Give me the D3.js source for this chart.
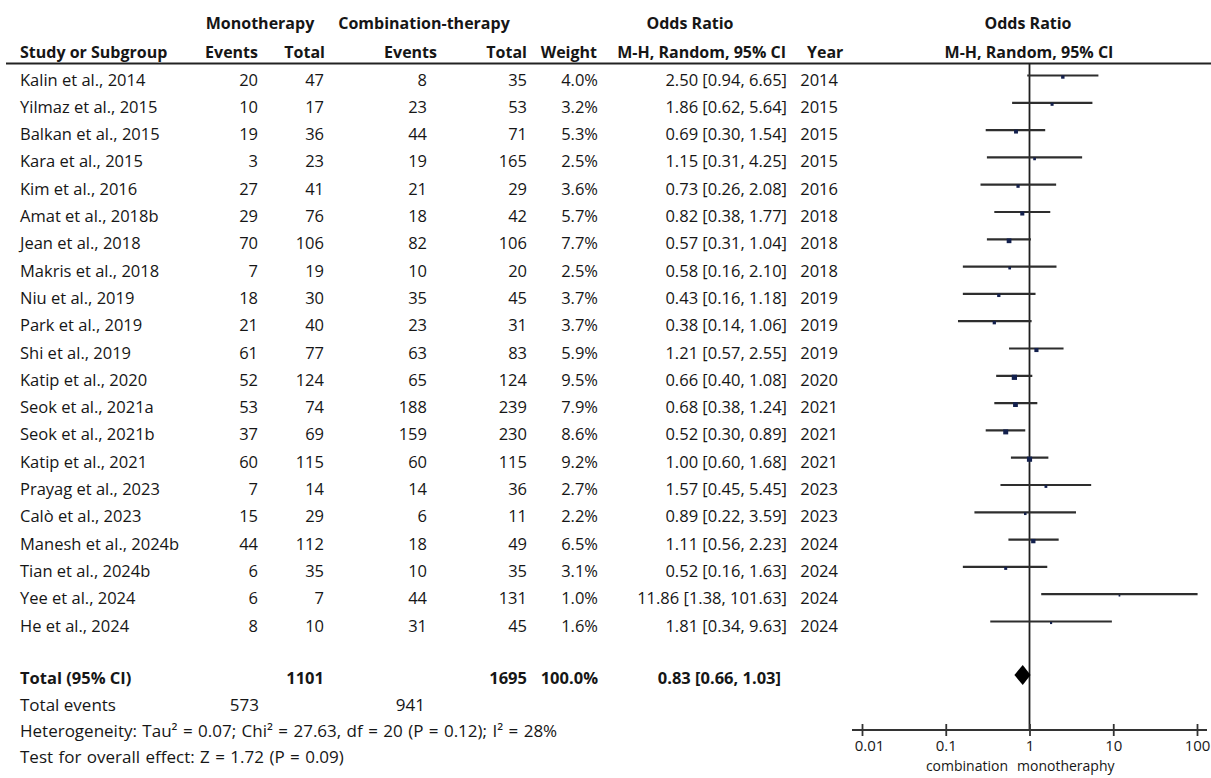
<!DOCTYPE html>
<html>
<head>
<meta charset="utf-8">
<script src="https://cdn.jsdelivr.net/npm/d3@7"></script>
<style>
  html, body { margin: 0; padding: 0; background: #fff; }
  svg text { font-family: "Open Sans", sans-serif; fill: #161616; }
</style>
</head>
<body>
<svg id="chart" width="1211" height="778"></svg>
<script>
// Study-level data
const studies = [
  "Kalin et al., 2014", "Yilmaz et al., 2015", "Balkan et al., 2015", "Kara et al., 2015",
  "Kim et al., 2016", "Amat et al., 2018b", "Jean et al., 2018", "Makris et al., 2018",
  "Niu et al., 2019", "Park et al., 2019", "Shi et al., 2019", "Katip et al., 2020",
  "Seok et al., 2021a", "Seok et al., 2021b", "Katip et al., 2021", "Prayag et al., 2023",
  "Calò et al., 2023", "Manesh et al., 2024b", "Tian et al., 2024b", "Yee et al., 2024",
  "He et al., 2024"
];
const monoEvents  = [20, 10, 19, 3, 27, 29, 70, 7, 18, 21, 61, 52, 53, 37, 60, 7, 15, 44, 6, 6, 8];
const monoTotal   = [47, 17, 36, 23, 41, 76, 106, 19, 30, 40, 77, 124, 74, 69, 115, 14, 29, 112, 35, 7, 10];
const comboEvents = [8, 23, 44, 19, 21, 18, 82, 10, 35, 23, 63, 65, 188, 159, 60, 14, 6, 18, 10, 44, 31];
const comboTotal  = [35, 53, 71, 165, 29, 42, 106, 20, 45, 31, 83, 124, 239, 230, 115, 36, 11, 49, 35, 131, 45];
const weights     = [4.0, 3.2, 5.3, 2.5, 3.6, 5.7, 7.7, 2.5, 3.7, 3.7, 5.9, 9.5, 7.9, 8.6, 9.2, 2.7, 2.2, 6.5, 3.1, 1.0, 1.6];
const oddsRatio   = [2.50, 1.86, 0.69, 1.15, 0.73, 0.82, 0.57, 0.58, 0.43, 0.38, 1.21, 0.66, 0.68, 0.52, 1.00, 1.57, 0.89, 1.11, 0.52, 11.86, 1.81];
const ciLower     = [0.94, 0.62, 0.30, 0.31, 0.26, 0.38, 0.31, 0.16, 0.16, 0.14, 0.57, 0.40, 0.38, 0.30, 0.60, 0.45, 0.22, 0.56, 0.16, 1.38, 0.34];
const ciUpper     = [6.65, 5.64, 1.54, 4.25, 2.08, 1.77, 1.04, 2.10, 1.18, 1.06, 2.55, 1.08, 1.24, 0.89, 1.68, 5.45, 3.59, 2.23, 1.63, 101.63, 9.63];
const years       = [2014, 2015, 2015, 2015, 2016, 2018, 2018, 2018, 2019, 2019, 2019, 2020, 2021, 2021, 2021, 2023, 2023, 2024, 2024, 2024, 2024];

// Pooled result
const pooledTotals = [1101, 1695];
const pooledEvents = [573, 941];
const pooledWeight = 100.0;
const pooledOR = [0.83, 0.66, 1.03];

// Axis
const axisTicks = [0.01, 0.1, 1, 10, 100];
const axisTickLabels = ["0.01", "0.1", "1", "10", "100"];
const favourLabels = ["combination", "monotheraphy"];

const svg = d3.select("#chart");
const f2 = d3.format(".2f");
const f1 = d3.format(".1f");

const x = d3.scaleLog().domain([0.01, 100]).range([862, 1197]);
const y = d3.scaleLinear().domain([0, studies.length - 1]).range([75.5, 621.5]);
const textDy = 10;

// ---- Header ----
const head = svg.append("g").attr("font-weight", "bold").attr("font-size", 16);
const headText = (t, px, py, anchor) =>
  head.append("text").attr("x", px).attr("y", py).attr("text-anchor", anchor).text(t);

headText("Monotherapy", 260, 29, "middle");
headText("Combination-therapy", 424, 29, "middle");
headText("Odds Ratio", 690, 29, "middle");
headText("Odds Ratio", 1028, 29, "middle");

headText("Study or Subgroup", 20, 58, "start");
headText("Events", 258, 58, "end");
headText("Total", 325, 58, "end");
headText("Events", 437, 58, "end");
headText("Total", 527, 58, "end");
headText("Weight", 597, 58, "end");
headText("M-H, Random, 95% CI", 786, 58, "end");
headText("Year", 807, 58, "start");
headText("M-H, Random, 95% CI", 1029, 58, "middle");

svg.append("line")
  .attr("x1", 6).attr("x2", 1211).attr("y1", 63.5).attr("y2", 63.5)
  .attr("stroke", "#222").attr("stroke-width", 2);

// ---- Study rows ----
const rows = svg.append("g").attr("font-size", 16.5);
const columns = [
  { vals: studies, x: 20, anchor: "start" },
  { vals: monoEvents, x: 258, anchor: "end" },
  { vals: monoTotal, x: 324, anchor: "end" },
  { vals: comboEvents, x: 427, anchor: "end" },
  { vals: comboTotal, x: 527, anchor: "end" },
  { vals: weights.map(w => f1(w) + "%"), x: 598, anchor: "end" },
  { vals: oddsRatio.map((o, i) => `${f2(o)} [${f2(ciLower[i])}, ${f2(ciUpper[i])}]`), x: 787, anchor: "end" },
  { vals: years, x: 838, anchor: "end" }
];
columns.forEach(col => {
  rows.selectAll(null).data(col.vals).enter().append("text")
    .attr("x", col.x)
    .attr("y", (d, i) => y(i) + textDy)
    .attr("text-anchor", col.anchor)
    .text(d => d);
});

// ---- Totals and footer ----
const totalY = 684;
const tot = svg.append("g").attr("font-weight", "bold").attr("font-size", 16.5);
tot.append("text").attr("x", 20).attr("y", totalY).text("Total (95% CI)");
tot.append("text").attr("x", 324).attr("y", totalY).attr("text-anchor", "end").text(pooledTotals[0]);
tot.append("text").attr("x", 527).attr("y", totalY).attr("text-anchor", "end").text(pooledTotals[1]);
tot.append("text").attr("x", 598).attr("y", totalY).attr("text-anchor", "end").text(f1(pooledWeight) + "%");
tot.append("text").attr("x", 781).attr("y", totalY).attr("text-anchor", "end")
  .text(`${f2(pooledOR[0])} [${f2(pooledOR[1])}, ${f2(pooledOR[2])}]`);

const foot = svg.append("g").attr("font-size", 17);
foot.append("text").attr("x", 20).attr("y", 711).text("Total events");
foot.append("text").attr("x", 259).attr("y", 711).attr("text-anchor", "end").text(pooledEvents[0]);
foot.append("text").attr("x", 425).attr("y", 711).attr("text-anchor", "end").text(pooledEvents[1]);
foot.append("text").attr("x", 20).attr("y", 737).attr("word-spacing", 1)
  .text("Heterogeneity: Tau² = 0.07; Chi² = 27.63, df = 20 (P = 0.12); I² = 28%");
foot.append("text").attr("x", 20).attr("y", 763).attr("word-spacing", 1)
  .text("Test for overall effect: Z = 1.72 (P = 0.09)");

// ---- Forest plot ----
const plot = svg.append("g");
const axisY = 730;

// line of no effect
plot.append("line")
  .attr("x1", x(1)).attr("x2", x(1)).attr("y1", 63).attr("y2", axisY)
  .attr("stroke", "#1e1e1e").attr("stroke-width", 1.8);

// confidence intervals
plot.selectAll(".ci").data(oddsRatio).enter().append("line")
  .attr("class", "ci")
  .attr("x1", (d, i) => x(ciLower[i]))
  .attr("x2", (d, i) => x(ciUpper[i]))
  .attr("y1", (d, i) => y(i)).attr("y2", (d, i) => y(i))
  .attr("stroke", "#2e2e2e").attr("stroke-width", 2.2);

// point estimates, sized by weight
const side = w => 1.7 * Math.sqrt(w);
plot.selectAll(".pt").data(oddsRatio).enter().append("rect")
  .attr("class", "pt")
  .attr("width", (d, i) => side(weights[i]))
  .attr("height", (d, i) => side(weights[i]))
  .attr("x", (d, i) => x(d) - side(weights[i]) / 2)
  .attr("y", (d, i) => y(i) + 1.5 - side(weights[i]) / 2)
  .attr("fill", "#13204d");

// pooled diamond
const dY = 675, dH = 10;
plot.append("polygon")
  .attr("points", [
    [x(pooledOR[1]), dY], [x(pooledOR[0]), dY - dH],
    [x(pooledOR[2]), dY], [x(pooledOR[0]), dY + dH]
  ].map(p => p.join(",")).join(" "))
  .attr("fill", "#000");

// axis
const axis = d3.axisBottom(x)
  .tickValues(axisTicks)
  .tickFormat((d, i) => axisTickLabels[i])
  .tickSizeInner(6).tickSizeOuter(0).tickPadding(4);
const ax = plot.append("g").attr("transform", `translate(0,${axisY})`).call(axis);
ax.select(".domain").remove();
ax.append("line").attr("x1", x(0.01) - 10).attr("x2", x(100) + 10)
  .attr("stroke", "#333").attr("stroke-width", 1.8);
ax.selectAll(".tick line").attr("y1", -6).attr("y2", 6).attr("stroke", "#333").attr("stroke-width", 1.8);
ax.selectAll(".tick text")
  .attr("font-size", 15).attr("font-family", "Open Sans, sans-serif").attr("fill", "#333")
  .attr("dx", (d, i) => i === 0 ? 7 : 0);

plot.append("text").attr("x", 1008).attr("y", 771).attr("text-anchor", "end")
  .attr("font-size", 14).text(favourLabels[0]);
plot.append("text").attr("x", 1017).attr("y", 771).attr("text-anchor", "start")
  .attr("font-size", 14).text(favourLabels[1]);
</script>
</body>
</html>
